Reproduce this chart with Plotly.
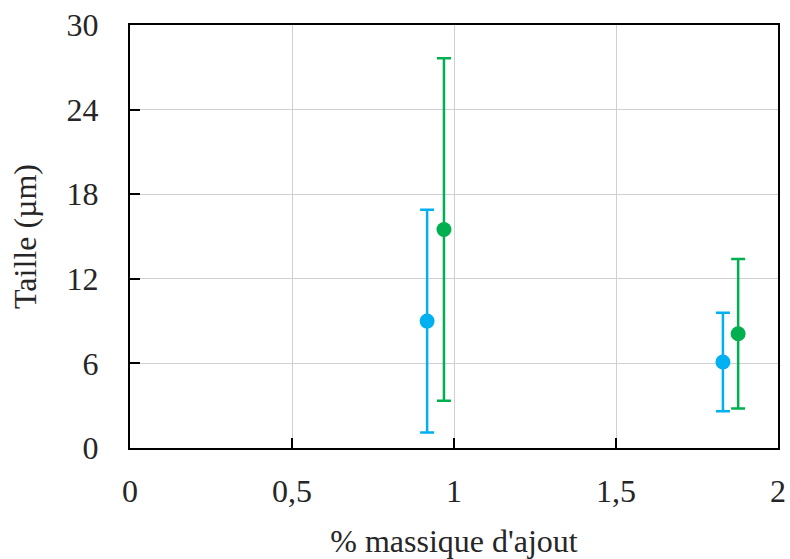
import plotly.graph_objects as go

# Data
series_names = ["Série bleue", "Série verte"]
x_blue = [0.917, 1.83]
y_blue = [9.0, 6.1]
err_blue = [7.9, 3.5]
x_green = [0.969, 1.877]
y_green = [15.5, 8.1]
err_green = [12.15, 5.3]

x_ticks = [0, 0.5, 1, 1.5, 2]
x_ticklabels = ["0", "0,5", "1", "1,5", "2"]
y_ticks = [0, 6, 12, 18, 24, 30]

FONT = "Liberation Serif"
FS = 32

fig = go.Figure()
for name, xs, ys, es, col in [
    (series_names[0], x_blue, y_blue, err_blue, "#00B0F0"),
    (series_names[1], x_green, y_green, err_green, "#00B050"),
]:
    fig.add_trace(go.Scatter(
        x=xs, y=ys, mode="markers", name=name,
        marker=dict(color=col, size=15),
        error_y=dict(type="data", array=es, visible=True, color=col, thickness=2.5, width=7),
        showlegend=False, cliponaxis=False,
    ))

axis_common = dict(
    showline=True, linecolor="black", linewidth=2, mirror=True,
    ticks="inside", ticklen=10, tickwidth=2, tickcolor="black",
    showgrid=True, gridcolor="#D0D0D0", gridwidth=1, zeroline=False,
    tickfont=dict(family=FONT, size=FS, color="#262626"),
    automargin=False,
)
fig.update_xaxes(
    range=[0, 2], tickvals=x_ticks, ticktext=x_ticklabels,
    title=dict(text="% massique d'ajout", font=dict(family=FONT, size=FS, color="#262626"), standoff=21),
    ticklabelstandoff=14,
    **axis_common,
)
fig.update_yaxes(
    range=[0, 30], tickvals=y_ticks,
    title=dict(text="Taille (µm)", font=dict(family=FONT, size=FS, color="#262626"), standoff=20),
    ticklabelstandoff=23,
    **axis_common,
)
fig.update_layout(
    width=790, height=559,
    margin=dict(l=130, r=12, t=25, b=111),
    plot_bgcolor="white", paper_bgcolor="white",
)
fig.write_html("out.html", config={"displayModeBar": False},
               post_script="document.body.style.margin='0';document.body.style.padding='0';")
